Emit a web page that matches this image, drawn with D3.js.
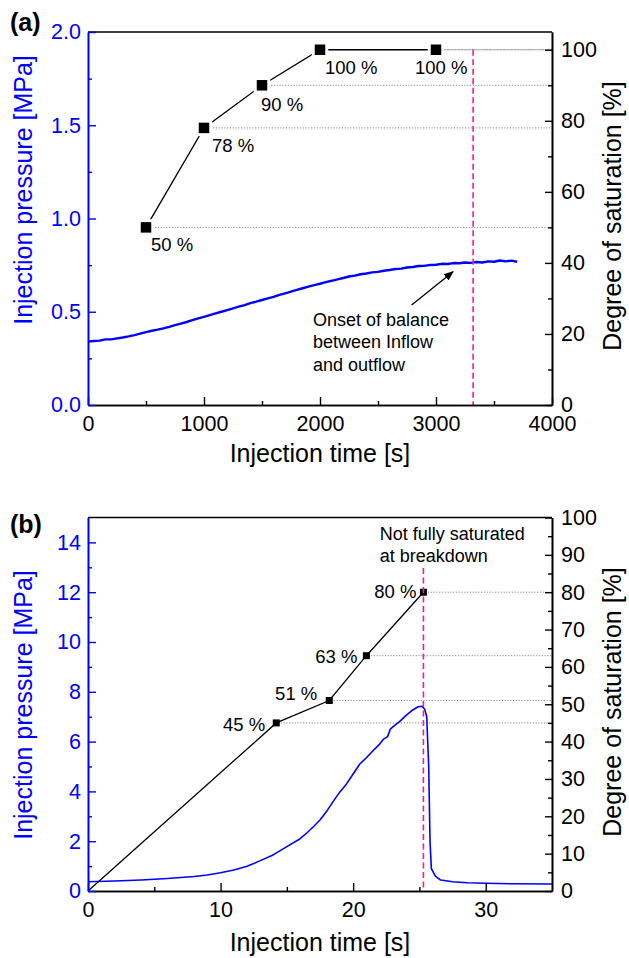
<!DOCTYPE html>
<html><head><meta charset="utf-8">
<script src="https://cdn.jsdelivr.net/npm/d3@7"></script>
<style>
body{margin:0;background:#fff}
svg{display:block;font-family:"Liberation Sans",Arial,sans-serif}
</style></head><body>
<svg id="chart" width="629" height="958"></svg>
<script>
// ---------- Panel (a): long-duration injection ----------
const timeA = [0,50,100,150,200,250,300,350,400,450,500,550,600,650,700,750,800,850,900,950,
  1000,1050,1100,1150,1200,1250,1300,1350,1400,1450,1500,1550,1600,1650,1700,1750,1800,1850,1900,1950,
  2000,2050,2100,2150,2200,2250,2300,2350,2400,2450,2500,2550,2600,2650,2700,2750,2800,2850,2900,2950,
  3000,3050,3100,3150,3200,3250,3300,3350,3400,3450,3500,3550,3600,3650,3700];
const pressureA = [0.340,0.343,0.345,0.352,0.352,0.357,0.362,0.368,0.375,0.383,0.391,0.398,0.404,0.411,0.419,0.428,0.436,0.445,0.455,0.464,
  0.473,0.482,0.491,0.500,0.509,0.518,0.527,0.536,0.546,0.554,0.563,0.572,0.580,0.590,0.599,0.608,0.617,0.626,0.635,0.643,
  0.650,0.659,0.666,0.674,0.681,0.689,0.694,0.701,0.705,0.711,0.714,0.720,0.724,0.729,0.731,0.737,0.740,0.745,0.746,0.751,
  0.752,0.757,0.756,0.761,0.760,0.764,0.762,0.767,0.764,0.770,0.768,0.775,0.770,0.774,0.768];
const satTimeA = [500,1000,1500,2000,3000];
const satA = [50,78,90,100,100];
const satLabelA = ["50 %","78 %","90 %","100 %","100 %"];
const onsetTimeA = 3320;
const noteA = ["Onset of balance","between Inflow","and outflow"];

const xTicksA = [0,1000,2000,3000,4000];
const xMinorA = [500,1500,2500,3500];
const yTicksA = [0,0.5,1.0,1.5,2.0];
const yMinorA = [0.25,0.75,1.25,1.75];
const sTicksA = [0,20,40,60,80,100];
const sMinorA = [10,30,50,70,90];

// ---------- Panel (b): injection up to breakdown ----------
const timeB = [0,2,4,6,8,9,10,11,12,12.5,13,14,15,16,16.5,17,17.5,18,18.5,19,19.5,20,20.5,21,21.5,
  22,22.3,22.6,22.8,23.2,23.5,24,24.5,24.9,25.2,25.4,25.55,25.7,25.8,25.9,26.2,26.6,27.5,28.6,30,32,35];
const pressureB = [0.37,0.40,0.44,0.50,0.58,0.64,0.73,0.84,0.99,1.10,1.22,1.46,1.78,2.10,2.33,2.58,2.85,3.2,3.6,3.98,4.3,
  4.7,5.1,5.35,5.63,5.9,6.1,6.2,6.5,6.68,6.8,7.05,7.27,7.4,7.42,7.3,7.0,5.0,2.0,0.9,0.6,0.44,0.37,0.33,0.31,0.29,0.28];
const satTimeB = [0,14.2,18.2,21.0,25.3];
const satB = [0,45,51,63,80];
const satLabelB = ["","45 %","51 %","63 %","80 %"];
const breakdownTimeB = 25.3;
const noteB = ["Not fully saturated","at breakdown"];

const xTicksB = [0,10,20,30];
const xMinorB = [5,15,25];
const yTicksB = [0,2,4,6,8,10,12,14];
const yMinorB = [1,3,5,7,9,11,13];
const sTicksB = [0,10,20,30,40,50,60,70,80,90,100];
const sMinorB = [5,15,25,35,45,55,65,75,85,95];

// label placement (pixel offsets from each marker)
const labelOffA = [[5,24,"start"],[8,24,"start"],[-1,26,"start"],[5,24,"start"],[-21,24,"start"]];
const labelOffB = [null,[-11,8,"end"],[-12,-1,"end"],[-9,7,"end"],[-7,6,"end"]];

const BLUE = "#0000ff", PINK = "#ff1a8c";
const svg = d3.select("#chart");

const xA = d3.scaleLinear().domain([0,4000]).range([88,552]);
const yA = d3.scaleLinear().domain([0,2]).range([405,32]);
const sA = d3.scaleLinear().domain([0,105]).range([405,32]);

const xB = d3.scaleLinear().domain([0,35]).range([88,552]);
const yB = d3.scaleLinear().domain([0,15]).range([891,517.5]);
const sB = d3.scaleLinear().domain([0,100]).range([891,517.5]);

function cleanAxis(g, color, size) {
  g.attr("font-family", null).attr("font-size", null);
  g.selectAll(".domain").attr("stroke", color).attr("stroke-width", 1.6);
  g.selectAll(".tick line").attr("stroke", color).attr("stroke-width", 1.4);
  g.selectAll(".tick text").attr("fill", color).style("font-size", size + "px");
}

function drawAxes(x, y, s, o) {
  const [x0, x1] = x.range();
  const [yb, yt] = y.range();
  // top frame line
  svg.append("line").attr("x1", x0).attr("x2", x1).attr("y1", yt).attr("y2", yt)
    .attr("stroke", "#000").attr("stroke-width", 1.6);
  // bottom axis
  svg.append("g").attr("transform", `translate(0,${yb})`)
    .call(d3.axisBottom(x).tickValues(o.xMinor).tickSize(-4).tickSizeOuter(0).tickFormat(""))
    .call(g => cleanAxis(g, "#000", 21.5));
  svg.append("g").attr("transform", `translate(0,${yb})`)
    .call(d3.axisBottom(x).tickValues(o.xTicks).tickSize(-8).tickSizeOuter(0).tickPadding(11).tickFormat(o.xFmt))
    .call(g => cleanAxis(g, "#000", 21.5));
  // right axis (saturation)
  svg.append("g").attr("transform", `translate(${x1},0)`)
    .call(d3.axisRight(s).tickValues(o.sMinor).tickSize(-4).tickSizeOuter(0).tickFormat(""))
    .call(g => cleanAxis(g, "#000", 21.5));
  svg.append("g").attr("transform", `translate(${x1},0)`)
    .call(d3.axisRight(s).tickValues(o.sTicks).tickSize(-7).tickSizeOuter(0).tickPadding(9).tickFormat(d3.format("d")))
    .call(g => cleanAxis(g, "#000", 21.5));
  // left axis (pressure)
  svg.append("g").attr("transform", `translate(${x0},0)`)
    .call(d3.axisLeft(y).tickValues(o.yMinor).tickSize(-4).tickSizeOuter(0).tickFormat(""))
    .call(g => cleanAxis(g, BLUE, 21.5));
  svg.append("g").attr("transform", `translate(${x0},0)`)
    .call(d3.axisLeft(y).tickValues(o.yTicks).tickSize(-8).tickSizeOuter(0).tickPadding(7).tickFormat(o.yFmt))
    .call(g => cleanAxis(g, BLUE, 21.5));

  // titles
  svg.append("text").attr("x", (x0 + x1) / 2).attr("y", o.xTitleY).attr("text-anchor", "middle")
    .style("font-size", "25px").text("Injection time [s]");
  svg.append("text").attr("transform", `translate(${o.yTitleX},${o.yTitleC}) rotate(-90)`)
    .attr("text-anchor", "middle").attr("fill", BLUE).style("font-size", "25px").text("Injection pressure [MPa]");
  svg.append("text").attr("transform", `translate(${o.sTitleX},${o.sTitleC}) rotate(-90)`)
    .attr("text-anchor", "middle").style("font-size", "25px").text("Degree of saturation [%]");
  svg.append("text").attr("x", 10).attr("y", o.tagY).style("font-size", "25px").style("font-weight", "bold").text(o.tag);
}

function drawPanel(x, y, s, d) {
  const x1 = x.range()[1];
  const pts = d.satT.map((t, i) => ({t, v: d.sat[i], label: d.labels[i], off: d.offs[i]}));
  const marked = pts.filter(p => p.label);
  // dotted guide lines to the saturation axis
  svg.append("g").selectAll("line").data(marked).join("line")
    .attr("x1", p => x(p.t) + d.mk / 2 + 1).attr("x2", x1)
    .attr("y1", p => s(p.v)).attr("y2", p => s(p.v))
    .attr("stroke", "#8a8a8a").attr("stroke-width", 1).attr("stroke-dasharray", "1.2,1.6");
  // pressure record
  svg.append("path").datum(d.time.map((t, i) => [t, d.p[i]]))
    .attr("fill", "none").attr("stroke", BLUE).attr("stroke-width", d.pw).attr("stroke-linejoin", "round")
    .attr("d", d3.line().x(q => x(q[0])).y(q => y(q[1])));
  // saturation path
  svg.append("path").datum(pts)
    .attr("fill", "none").attr("stroke", "#000").attr("stroke-width", 1.3)
    .attr("d", d3.line().x(p => x(p.t)).y(p => s(p.v)));
  // markers (with a white halo that breaks the connecting line)
  if (d.halo > 0) {
    svg.append("g").selectAll("rect").data(marked).join("rect")
      .attr("x", p => x(p.t) - d.mk / 2 - d.halo).attr("y", p => s(p.v) - d.mk / 2 - d.halo)
      .attr("width", d.mk + 2 * d.halo).attr("height", d.mk + 2 * d.halo).attr("fill", "#fff");
  }
  svg.append("g").selectAll("rect").data(marked).join("rect")
    .attr("x", p => x(p.t) - d.mk / 2).attr("y", p => s(p.v) - d.mk / 2)
    .attr("width", d.mk).attr("height", d.mk).attr("fill", "#000");
  // onset / breakdown line
  svg.append("line").attr("x1", x(d.vt)).attr("x2", x(d.vt))
    .attr("y1", s(d.vTop)).attr("y2", y.range()[0])
    .attr("stroke", PINK).attr("stroke-width", 1.6).attr("stroke-dasharray", "6,3.5");
  // value labels
  svg.append("g").selectAll("text").data(marked).join("text")
    .attr("x", p => x(p.t) + p.off[0]).attr("y", p => s(p.v) + p.off[1])
    .attr("text-anchor", p => p.off[2]).style("font-size", "18.5px").text(p => p.label);
}

// arrow head
svg.append("defs").append("marker").attr("id", "head").attr("viewBox", "0 0 10 10")
  .attr("refX", 9).attr("refY", 5).attr("markerWidth", 10).attr("markerHeight", 10)
  .attr("markerUnits", "userSpaceOnUse").attr("orient", "auto")
  .append("path").attr("d", "M0,1 L10,5 L0,9 Z").attr("fill", "#000");

drawPanel(xA, yA, sA, {time: timeA, p: pressureA, satT: satTimeA, sat: satA, labels: satLabelA,
  offs: labelOffA, mk: 10.5, halo: 3, pw: 2.4, vt: onsetTimeA, vTop: 100});
drawPanel(xB, yB, sB, {time: timeB, p: pressureB, satT: satTimeB, sat: satB, labels: satLabelB,
  offs: labelOffB, mk: 7, halo: 0, pw: 1.6, vt: breakdownTimeB, vTop: 86.5});

// annotation in (a)
svg.append("line").attr("x1", xA(2790)).attr("y1", yA(0.536)).attr("x2", xA(3147)).attr("y2", yA(0.715))
  .attr("stroke", "#000").attr("stroke-width", 1.3).attr("marker-end", "url(#head)");
svg.append("g").selectAll("text").data(noteA).join("text")
  .attr("x", xA(1940)).attr("y", (d, i) => yA(0.424) + i * 22.5)
  .style("font-size", "18px").text(d => d);
// annotation in (b)
svg.append("g").selectAll("text").data(noteB).join("text")
  .attr("x", xB(22)).attr("y", (d, i) => yB(14.1) + i * 21.7)
  .style("font-size", "18px").text(d => d);

drawAxes(xA, yA, sA, {xTicks: xTicksA, xMinor: xMinorA, yTicks: yTicksA, yMinor: yMinorA,
  sTicks: sTicksA, sMinor: sMinorA, xFmt: d3.format("d"), yFmt: d3.format(".1f"),
  xTitleY: 462, yTitleX: 32, yTitleC: 190, sTitleX: 621, sTitleC: 216, tag: "(a)", tagY: 31});
drawAxes(xB, yB, sB, {xTicks: xTicksB, xMinor: xMinorB, yTicks: yTicksB, yMinor: yMinorB,
  sTicks: sTicksB, sMinor: sMinorB, xFmt: d3.format("d"), yFmt: d3.format("d"),
  xTitleY: 951, yTitleX: 32, yTitleC: 705, sTitleX: 621, sTitleC: 702, tag: "(b)", tagY: 533});
</script></body></html>
